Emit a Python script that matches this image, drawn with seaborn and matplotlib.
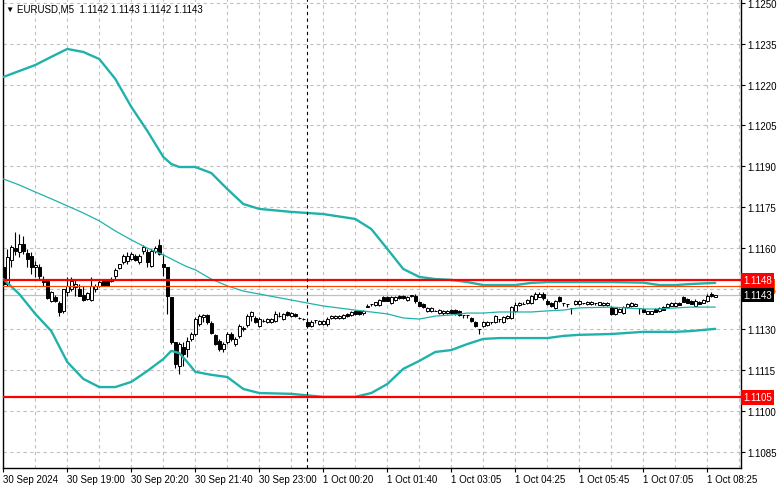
import numpy as np
import pandas as pd
import matplotlib
matplotlib.use("Agg")
import matplotlib.pyplot as plt
import matplotlib.transforms as mtransforms
import seaborn as sns

# ---------------- data (EURUSD M5) ----------------
opens = [
    1.11530, 1.11467, 1.11555, 1.11599, 1.11585, 1.11614, 1.11581, 1.11570, 1.11530, 1.11530,
    1.11485, 1.11478, 1.11405, 1.11419, 1.11397, 1.11368, 1.11438, 1.11449, 1.11456, 1.11449,
    1.11427, 1.11412, 1.11408, 1.11449, 1.11460, 1.11478, 1.11478, 1.11478, 1.11496, 1.11526,
    1.11548, 1.11552, 1.11559, 1.11570, 1.11548, 1.11588, 1.11585, 1.11533, 1.11588, 1.11610,
    1.11541, 1.11530, 1.11419, 1.11254, 1.11166, 1.11235, 1.11228, 1.11265, 1.11283, 1.11320,
    1.11346, 1.11353, 1.11324, 1.11280, 1.11258, 1.11228, 1.11254, 1.11283, 1.11246, 1.11276,
    1.11302, 1.11316, 1.11349, 1.11342, 1.11313, 1.11331, 1.11327, 1.11327, 1.11331, 1.11349,
    1.11338, 1.11364, 1.11349, 1.11357, 1.11342, 1.11338, 1.11327, 1.11313, 1.11335, 1.11320,
    1.11320, 1.11320, 1.11342, 1.11342, 1.11342, 1.11342, 1.11357, 1.11353, 1.11368, 1.11368,
    1.11360, 1.11382, 1.11394, 1.11390, 1.11390, 1.11419, 1.11419, 1.11397, 1.11408, 1.11423,
    1.11423, 1.11408, 1.11423, 1.11423, 1.11401, 1.11394, 1.11368, 1.11368, 1.11368, 1.11360,
    1.11360, 1.11360, 1.11371, 1.11371, 1.11368, 1.11353, 1.11353, 1.11342, 1.11327, 1.11302,
    1.11313, 1.11316, 1.11327, 1.11327, 1.11338, 1.11327, 1.11342, 1.11342, 1.11368, 1.11390,
    1.11394, 1.11397, 1.11397, 1.11412, 1.11419, 1.11430, 1.11405, 1.11397, 1.11379, 1.11419,
    1.11397, 1.11394, 1.11379, 1.11394, 1.11394, 1.11397, 1.11394, 1.11394, 1.11397, 1.11390,
    1.11390, 1.11390, 1.11382, 1.11357, 1.11364, 1.11360, 1.11382, 1.11386, 1.11386, 1.11379,
    1.11375, 1.11357, 1.11357, 1.11375, 1.11368, 1.11382, 1.11382, 1.11386, 1.11386, 1.11397,
    1.11419, 1.11412, 1.11405, 1.11386, 1.11401, 1.11397, 1.11405, 1.11430, 1.11419]
highs = [
    1.11537, 1.11596, 1.11610, 1.11658, 1.11651, 1.11644, 1.11596, 1.11585, 1.11552, 1.11541,
    1.11496, 1.11485, 1.11441, 1.11427, 1.11405, 1.11449, 1.11493, 1.11493, 1.11485, 1.11467,
    1.11460, 1.11438, 1.11493, 1.11467, 1.11482, 1.11485, 1.11482, 1.11493, 1.11526, 1.11541,
    1.11577, 1.11585, 1.11585, 1.11577, 1.11577, 1.11610, 1.11596, 1.11596, 1.11607, 1.11633,
    1.11577, 1.11530, 1.11419, 1.11254, 1.11254, 1.11254, 1.11272, 1.11291, 1.11346, 1.11357,
    1.11357, 1.11357, 1.11331, 1.11283, 1.11265, 1.11254, 1.11291, 1.11291, 1.11272, 1.11320,
    1.11313, 1.11357, 1.11368, 1.11349, 1.11346, 1.11338, 1.11342, 1.11342, 1.11368, 1.11364,
    1.11360, 1.11368, 1.11364, 1.11360, 1.11346, 1.11342, 1.11331, 1.11335, 1.11335, 1.11335,
    1.11335, 1.11346, 1.11353, 1.11353, 1.11353, 1.11357, 1.11360, 1.11368, 1.11371, 1.11371,
    1.11371, 1.11394, 1.11394, 1.11401, 1.11412, 1.11423, 1.11423, 1.11423, 1.11423, 1.11427,
    1.11427, 1.11423, 1.11427, 1.11430, 1.11405, 1.11397, 1.11382, 1.11382, 1.11371, 1.11375,
    1.11371, 1.11371, 1.11375, 1.11375, 1.11371, 1.11353, 1.11353, 1.11346, 1.11331, 1.11302,
    1.11331, 1.11331, 1.11327, 1.11353, 1.11338, 1.11349, 1.11353, 1.11386, 1.11401, 1.11401,
    1.11401, 1.11412, 1.11427, 1.11438, 1.11438, 1.11438, 1.11412, 1.11401, 1.11408, 1.11423,
    1.11397, 1.11394, 1.11379, 1.11408, 1.11408, 1.11397, 1.11405, 1.11405, 1.11397, 1.11401,
    1.11401, 1.11401, 1.11386, 1.11382, 1.11379, 1.11386, 1.11397, 1.11401, 1.11397, 1.11379,
    1.11379, 1.11368, 1.11368, 1.11379, 1.11382, 1.11386, 1.11397, 1.11401, 1.11401, 1.11401,
    1.11423, 1.11416, 1.11408, 1.11412, 1.11405, 1.11412, 1.11430, 1.11438, 1.11427]
lows = [
    1.11460, 1.11460, 1.11530, 1.11574, 1.11566, 1.11577, 1.11530, 1.11504, 1.11493, 1.11485,
    1.11460, 1.11412, 1.11401, 1.11401, 1.11349, 1.11360, 1.11423, 1.11441, 1.11423, 1.11423,
    1.11405, 1.11408, 1.11405, 1.11438, 1.11456, 1.11460, 1.11460, 1.11474, 1.11485, 1.11522,
    1.11541, 1.11541, 1.11555, 1.11552, 1.11541, 1.11577, 1.11530, 1.11530, 1.11581, 1.11574,
    1.11496, 1.11357, 1.11246, 1.11158, 1.11136, 1.11166, 1.11199, 1.11258, 1.11276, 1.11313,
    1.11327, 1.11320, 1.11283, 1.11243, 1.11221, 1.11217, 1.11246, 1.11258, 1.11239, 1.11269,
    1.11294, 1.11309, 1.11331, 1.11324, 1.11309, 1.11327, 1.11324, 1.11324, 1.11327, 1.11346,
    1.11335, 1.11349, 1.11346, 1.11346, 1.11338, 1.11335, 1.11309, 1.11309, 1.11324, 1.11316,
    1.11316, 1.11313, 1.11338, 1.11338, 1.11338, 1.11338, 1.11346, 1.11349, 1.11353, 1.11353,
    1.11353, 1.11382, 1.11386, 1.11386, 1.11386, 1.11405, 1.11405, 1.11394, 1.11405, 1.11412,
    1.11412, 1.11405, 1.11419, 1.11397, 1.11386, 1.11379, 1.11364, 1.11364, 1.11368, 1.11357,
    1.11353, 1.11357, 1.11357, 1.11353, 1.11349, 1.11342, 1.11342, 1.11327, 1.11309, 1.11283,
    1.11309, 1.11313, 1.11320, 1.11324, 1.11327, 1.11324, 1.11338, 1.11338, 1.11364, 1.11386,
    1.11394, 1.11394, 1.11394, 1.11408, 1.11419, 1.11408, 1.11390, 1.11382, 1.11375, 1.11401,
    1.11386, 1.11382, 1.11357, 1.11390, 1.11390, 1.11394, 1.11390, 1.11390, 1.11390, 1.11390,
    1.11386, 1.11386, 1.11353, 1.11353, 1.11364, 1.11357, 1.11379, 1.11382, 1.11386, 1.11357,
    1.11364, 1.11357, 1.11357, 1.11364, 1.11364, 1.11371, 1.11379, 1.11386, 1.11386, 1.11390,
    1.11401, 1.11397, 1.11394, 1.11386, 1.11394, 1.11397, 1.11401, 1.11419, 1.11419]
closes = [
    1.11467, 1.11566, 1.11603, 1.11588, 1.11614, 1.11588, 1.11559, 1.11530, 1.11537, 1.11496,
    1.11474, 1.11416, 1.11438, 1.11405, 1.11364, 1.11449, 1.11460, 1.11478, 1.11467, 1.11423,
    1.11408, 1.11434, 1.11460, 1.11460, 1.11474, 1.11460, 1.11460, 1.11485, 1.11519, 1.11541,
    1.11570, 1.11570, 1.11577, 1.11555, 1.11570, 1.11603, 1.11548, 1.11588, 1.11599, 1.11577,
    1.11530, 1.11423, 1.11254, 1.11173, 1.11246, 1.11210, 1.11258, 1.11283, 1.11338, 1.11349,
    1.11353, 1.11327, 1.11287, 1.11246, 1.11228, 1.11246, 1.11283, 1.11265, 1.11265, 1.11313,
    1.11305, 1.11349, 1.11364, 1.11327, 1.11338, 1.11331, 1.11338, 1.11338, 1.11357, 1.11349,
    1.11357, 1.11353, 1.11360, 1.11349, 1.11342, 1.11338, 1.11313, 1.11327, 1.11335, 1.11331,
    1.11331, 1.11338, 1.11349, 1.11349, 1.11349, 1.11353, 1.11349, 1.11364, 1.11357, 1.11357,
    1.11368, 1.11386, 1.11394, 1.11401, 1.11408, 1.11405, 1.11405, 1.11419, 1.11419, 1.11416,
    1.11416, 1.11419, 1.11427, 1.11405, 1.11386, 1.11382, 1.11379, 1.11379, 1.11368, 1.11371,
    1.11368, 1.11368, 1.11360, 1.11357, 1.11353, 1.11353, 1.11353, 1.11331, 1.11313, 1.11302,
    1.11327, 1.11327, 1.11327, 1.11349, 1.11338, 1.11346, 1.11349, 1.11382, 1.11390, 1.11397,
    1.11394, 1.11408, 1.11423, 1.11430, 1.11430, 1.11416, 1.11394, 1.11386, 1.11405, 1.11405,
    1.11397, 1.11394, 1.11379, 1.11405, 1.11405, 1.11397, 1.11401, 1.11401, 1.11397, 1.11401,
    1.11397, 1.11397, 1.11357, 1.11379, 1.11375, 1.11382, 1.11394, 1.11397, 1.11394, 1.11379,
    1.11364, 1.11368, 1.11368, 1.11364, 1.11379, 1.11371, 1.11394, 1.11397, 1.11397, 1.11390,
    1.11401, 1.11397, 1.11394, 1.11405, 1.11394, 1.11408, 1.11423, 1.11423, 1.11427]

# Bollinger bands read at these bar positions
bb_bars = [0, 4, 8, 12, 16, 20, 24, 28, 32, 36, 40, 42, 44, 46, 48, 52, 56, 60, 64, 72,
           80, 88, 92, 96, 100, 104, 108, 112, 116, 120, 124, 128, 132, 136, 140, 144,
           152, 160, 164, 168, 172, 178]
bb_upper = [1.12228, 1.12250, 1.12272, 1.12302, 1.12331, 1.12320, 1.12294, 1.12221, 1.12118, 1.12030,
            1.11934, 1.11908, 1.11897, 1.11897, 1.11897, 1.11875, 1.11816, 1.11761, 1.11743, 1.11732,
            1.11724, 1.11706, 1.11669, 1.11596, 1.11522, 1.11493, 1.11485, 1.11482, 1.11474, 1.11463,
            1.11463, 1.11463, 1.11471, 1.11474, 1.11474, 1.11474, 1.11474, 1.11472, 1.11463, 1.11463,
            1.11467, 1.11471]
bb_middle = [1.11853, 1.11831, 1.11805, 1.11780, 1.11754, 1.11728, 1.11699, 1.11662, 1.11629, 1.11599,
             1.11574, 1.11559, 1.11544, 1.11530, 1.11519, 1.11485, 1.11460, 1.11441, 1.11430, 1.11408,
             1.11386, 1.11371, 1.11364, 1.11357, 1.11342, 1.11338, 1.11349, 1.11353, 1.11360, 1.11360,
             1.11364, 1.11364, 1.11364, 1.11368, 1.11371, 1.11379, 1.11382, 1.11375, 1.11375, 1.11379,
             1.11382, 1.11382]
bb_lower = [1.11485, 1.11430, 1.11357, 1.11294, 1.11180, 1.11118, 1.11088, 1.11088, 1.11107, 1.11147,
            1.11191, 1.11221, 1.11213, 1.11180, 1.11144, 1.11133, 1.11125, 1.11081, 1.11066, 1.11063,
            1.11052, 1.11052, 1.11066, 1.11099, 1.11155, 1.11184, 1.11217, 1.11224, 1.11246, 1.11265,
            1.11268, 1.11268, 1.11268, 1.11268, 1.11276, 1.11280, 1.11283, 1.11291, 1.11291, 1.11291,
            1.11294, 1.11302]

level_high = 1.1148
level_low = 1.1105
level_orange = 1.1146
separator_bar = 76

time_tick_bars = [0, 16, 32, 48, 64, 80, 96, 112, 128, 144, 160, 176]
time_tick_labels = ["30 Sep 2024", "30 Sep 19:00", "30 Sep 20:20", "30 Sep 21:40",
                    "30 Sep 23:00", "1 Oct 00:20", "1 Oct 01:40", "1 Oct 03:05",
                    "1 Oct 04:25", "1 Oct 05:45", "1 Oct 07:05", "1 Oct 08:25"]
price_ticks = [1.1085, 1.1100, 1.1115, 1.1130, 1.1145, 1.1160, 1.1175,
               1.1190, 1.1205, 1.1220, 1.1235, 1.1250]
title_text = "EURUSD,M5  1.1142 1.1143 1.1142 1.1143"

# ---------------- style ----------------
sns.set_theme(style="white")
FONT = ["Liberation Sans", "DejaVu Sans"]
plt.rcParams["font.family"] = FONT
FS = 7.0

W, H = 781, 489
fig = plt.figure(figsize=(W / 100, H / 100), dpi=100)
ax = fig.add_axes([3 / W, 20 / H, 738 / W, 469 / H])
ax.set_facecolor("white")

candles = pd.DataFrame({"open": opens, "high": highs, "low": lows, "close": closes})
candles["bar"] = np.arange(len(candles))
bands = pd.DataFrame({"bar": bb_bars, "upper": bb_upper, "middle": bb_middle, "lower": bb_lower})

TEAL = "#20B2AA"
GRID = "#C0C0C0"

# grid
for b in range(0, 185, 8):
    ax.axvline(b, color=GRID, lw=0.8, ls=(0, (3, 3)), zorder=0)
for p in price_ticks:
    ax.axhline(p, color=GRID, lw=0.8, ls=(0, (3, 3)), zorder=0)

# wicks
ax.vlines(candles["bar"], candles["low"], candles["high"], color="black", lw=0.8, zorder=2)
# bodies
bull = candles["close"] >= candles["open"]
body_bottom = np.minimum(candles["open"], candles["close"])
body_h = np.abs(candles["close"] - candles["open"])
ax.bar(candles["bar"], body_h, bottom=body_bottom, width=0.75,
       color=np.where(bull, "white", "black"), edgecolor="black", linewidth=0.7, zorder=3)

# Bollinger bands
sns.lineplot(data=bands, x="bar", y="upper", ax=ax, color=TEAL, lw=1.7, zorder=4, legend=False)
sns.lineplot(data=bands, x="bar", y="lower", ax=ax, color=TEAL, lw=1.7, zorder=4, legend=False)
sns.lineplot(data=bands, x="bar", y="middle", ax=ax, color=TEAL, lw=0.9, zorder=4, legend=False)

# horizontal levels
bid = closes[-1]
ax.axhline(bid, color="#C0C0C0", lw=0.9, zorder=1.5)
ax.axhline(level_orange, color="#FF4500", lw=0.8, zorder=5)
ax.axhline(level_high, color="#FF0000", lw=1.6, zorder=5)
ax.axhline(level_low, color="#FF0000", lw=1.6, zorder=5)
# period separator
ax.axvline(separator_bar, color="black", lw=0.8, ls=(0, (3, 3)), zorder=5)

# limits
ax.set_ylim(1.107904, 1.125147)
ax.set_xlim(-0.075, 184.43)

# axes / ticks
ax.spines["top"].set_visible(False)
for side in ["left", "bottom", "right"]:
    ax.spines[side].set_visible(True)
    ax.spines[side].set_color("black")
    ax.spines[side].set_linewidth(1.0)

ax.yaxis.tick_right()
ax.set_yticks(price_ticks)
ax.set_yticklabels([f"{p:.4f}" for p in price_ticks])
ax.set_xticks(time_tick_bars)
ax.set_xticklabels(time_tick_labels)
ax.tick_params(axis="y", which="both", right=True, left=False, length=3, width=0.8,
               pad=1.5, labelsize=FS, colors="black", direction="out")
ax.tick_params(axis="x", which="both", bottom=True, length=3, width=0.8,
               pad=1.0, labelsize=FS, colors="black", direction="out")
for lbl in ax.get_xticklabels():
    lbl.set_horizontalalignment("left")
ax.set_xlabel("")
ax.set_ylabel("")
ax.grid(False)

# right-side price boxes
trans = mtransforms.blended_transform_factory(ax.transAxes, ax.transData)
def price_box(val, fc, tc="white"):
    ax.text(1.0 + 2.5 / 738, val, f"{val:.4f}", transform=trans, ha="left", va="center",
            fontsize=FS, color=tc, clip_on=False, zorder=20,
            bbox=dict(boxstyle="square,pad=0.22", fc=fc, ec="none"))

price_box(level_orange, "#FF4500")
price_box(level_high, "#FF0000")
price_box(bid, "#000000")
price_box(level_low, "#FF0000")

# title
fig.text(5 / W, 1 - 10 / H, "\u25BC", fontsize=6, color="black", va="center", ha="left",
         family=FONT)
fig.text(17 / W, 1 - 10 / H, title_text, fontsize=FS, color="black", va="center", ha="left",
         family=FONT)

fig.savefig("out.png", dpi=100, facecolor="white")
